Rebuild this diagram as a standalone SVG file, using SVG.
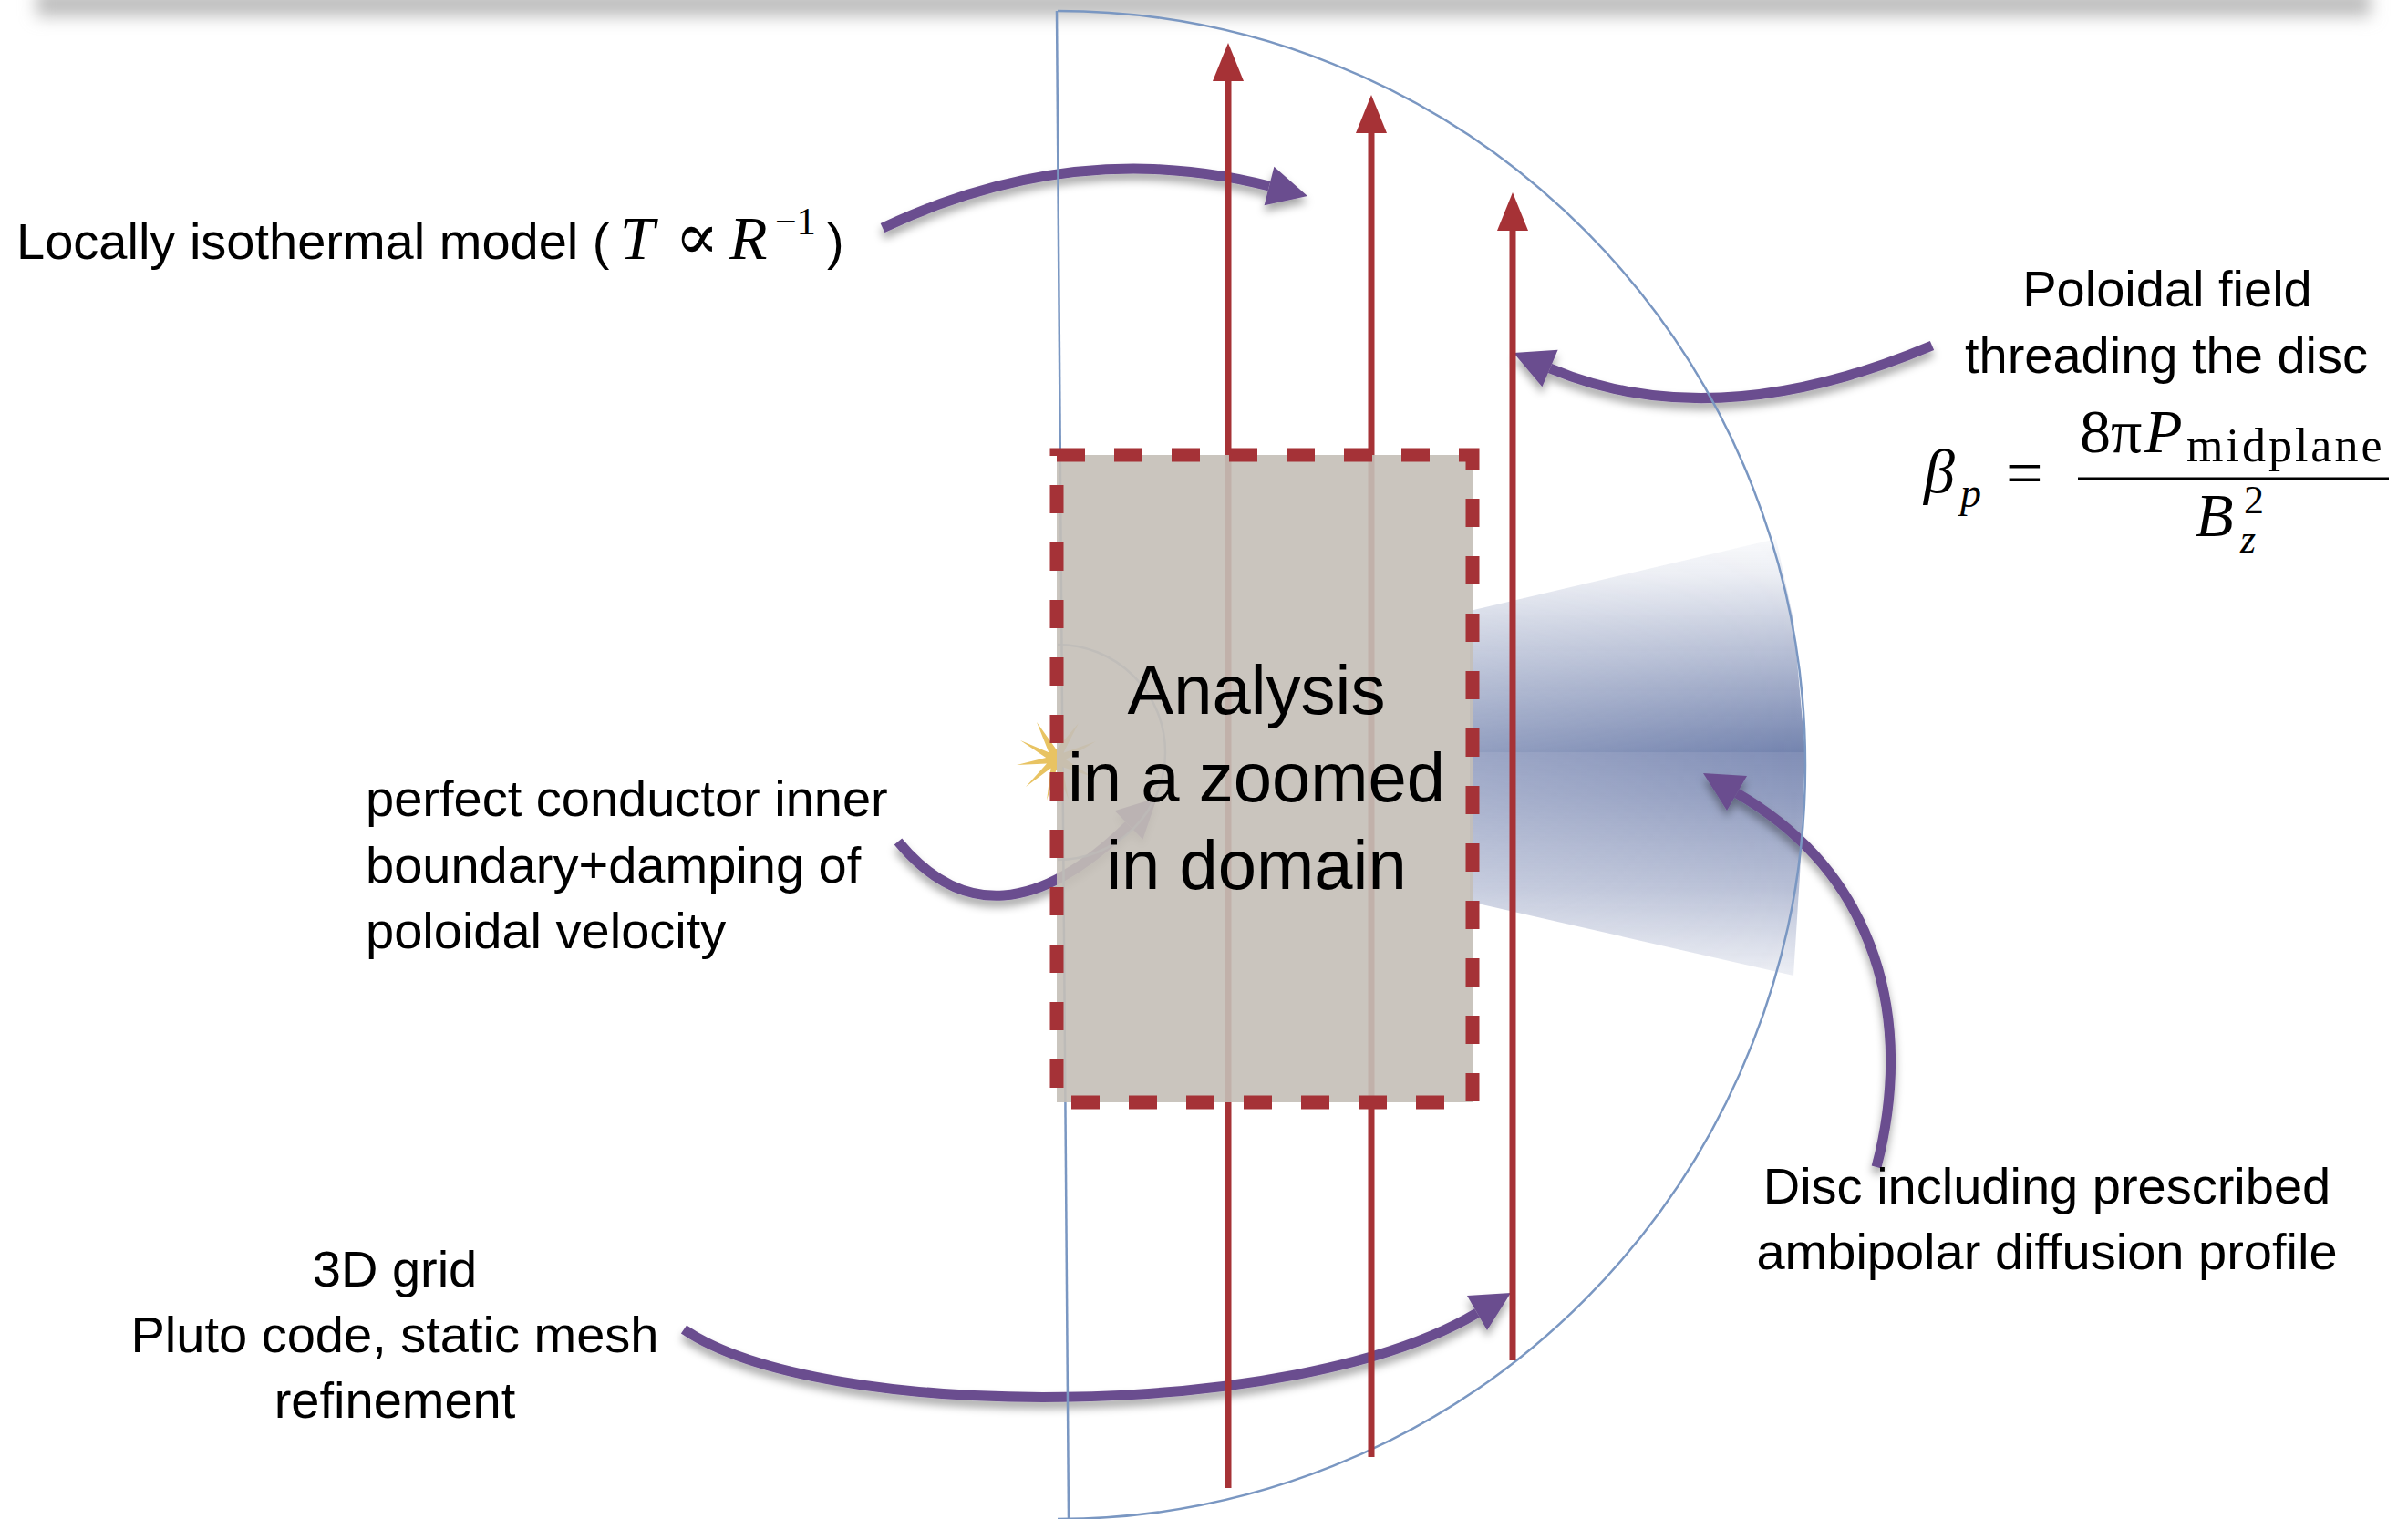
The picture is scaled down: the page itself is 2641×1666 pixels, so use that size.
<svg xmlns="http://www.w3.org/2000/svg" width="2641" height="1666" viewBox="0 0 2641 1666">
  <style>
    .lbl { font-family: "Liberation Sans", Arial, sans-serif; font-size: 56px; fill: #000; }
    .big { font-size: 76px; }
    .mid { text-anchor: middle; }
    .math { font-family: "Liberation Serif", "DejaVu Serif", "Times New Roman", serif; fill: #000; }
    .it { font-style: italic; }
    .up { font-style: normal; }
    .domain { stroke: #7a97c2; stroke-width: 2.5; fill: none; }
    .field { stroke: #a63236; stroke-width: 7; fill: none; }
    .fhead { fill: #a63236; }
    .pointer { stroke: #6b4e8f; stroke-width: 11; fill: none; stroke-linecap: butt; }
    .phead { fill: #6b4e8f; }
  </style>
  <defs>
    <filter id="haze" x="-10%" y="-300%" width="120%" height="700%">
      <feGaussianBlur stdDeviation="9"/>
    </filter>
    <filter id="shadow" x="-20%" y="-30%" width="140%" height="170%">
      <feDropShadow dx="0" dy="7" stdDeviation="5" flood-color="#000" flood-opacity="0.35"/>
    </filter>
    <linearGradient id="discTop" gradientUnits="userSpaceOnUse" x1="0" y1="591" x2="0" y2="825">
      <stop offset="0" stop-color="#6072a3" stop-opacity="0.04"/>
      <stop offset="0.17" stop-color="#6072a3" stop-opacity="0.13"/>
      <stop offset="0.46" stop-color="#6072a3" stop-opacity="0.4"/>
      <stop offset="0.75" stop-color="#6072a3" stop-opacity="0.66"/>
      <stop offset="1" stop-color="#6072a3" stop-opacity="0.88"/>
    </linearGradient>
    <linearGradient id="discBot" gradientUnits="userSpaceOnUse" x1="0" y1="825" x2="0" y2="1071">
      <stop offset="0" stop-color="#6878a8" stop-opacity="0.84"/>
      <stop offset="0.2" stop-color="#6878a8" stop-opacity="0.74"/>
      <stop offset="0.6" stop-color="#6878a8" stop-opacity="0.48"/>
      <stop offset="0.85" stop-color="#6878a8" stop-opacity="0.25"/>
      <stop offset="1" stop-color="#6878a8" stop-opacity="0.12"/>
    </linearGradient>
    <linearGradient id="discFade" gradientUnits="userSpaceOnUse" x1="1612" y1="0" x2="1980" y2="0">
      <stop offset="0" stop-color="#fff" stop-opacity="0.78"/>
      <stop offset="1" stop-color="#fff" stop-opacity="1"/>
    </linearGradient>
    <mask id="discMask" maskUnits="userSpaceOnUse" x="1550" y="550" width="500" height="560">
      <rect x="1550" y="550" width="500" height="560" fill="url(#discFade)"/>
    </mask>
  </defs>

  <rect width="2641" height="1666" fill="#fff"/>

  <!-- soft shadow strip along the top edge -->
  <rect x="40" y="-10" width="2560" height="28" fill="#bdbdbd" filter="url(#haze)"/>

  <!-- disc wedge with ambipolar diffusion profile -->
  <g id="disc" mask="url(#discMask)">
    <polygon points="1612,670 1948,591 1967,680 1980,825 1612,825" fill="url(#discTop)"/>
    <polygon points="1612,825 1980,825 1974,960 1967,1070 1612,989" fill="url(#discBot)"/>
  </g>

  <!-- connectors: curved pointers from the labels -->
  <g id="connectors">
    <g id="ptr-isothermal" filter="url(#shadow)">
      <path class="pointer" d="M 968 250 Q 1180 150 1392 204"/>
      <polygon class="phead" points="1434,215 1386.6,225.3 1397.4,182.7"/>
    </g>
    <g id="ptr-field" filter="url(#shadow)">
      <path class="pointer" d="M 2119 379 Q 1880 480 1700 404"/>
      <polygon class="phead" points="1660,387 1708.6,383.7 1691.4,424.3"/>
    </g>
    <g id="ptr-boundary" filter="url(#shadow)">
      <path class="pointer" d="M 985 923 Q 1090 1050 1238 905"/>
      <polygon class="phead" points="1269,875 1253.4,920.7 1222.6,889.3"/>
    </g>
    <g id="ptr-grid" filter="url(#shadow)">
      <path class="pointer" d="M 750 1458 C 900 1560 1420 1560 1620 1440"/>
      <polygon class="phead" points="1657,1418 1631,1459 1609,1421"/>
    </g>
    <g id="ptr-disc" filter="url(#shadow)">
      <path class="pointer" d="M 2058 1280 C 2100 1120 2060 960 1905 870"/>
      <polygon class="phead" points="1868,848 1916,851 1894,889"/>
    </g>
  </g>

  <!-- computational domain: axis, outer boundary and inner boundary -->
  <g id="domain">
    <path class="domain" d="M 1159 12 L 1172 1666"/>
    <path class="domain" d="M 1160 12 A 820 827 0 0 1 1160 1666"/>
    <path class="domain" d="M 1160 707 A 118 118 0 0 1 1160 943" opacity="0.8"/>
  </g>

  <!-- central star -->
  <g id="star">
    <polygon fill="#e8c362" points="1115,839 1147.2,831.1 1119,812 1150.3,825.2 1137,792 1158.5,822 1183,793 1166.3,825.8 1202,813 1169,833.1 1198,852 1165.3,841.2 1172,877 1158.6,844 1148,878 1152.5,842.5 1125,863 1148,837.6"/>
  </g>

  <!-- poloidal field lines -->
  <g id="field-lines">
    <g id="field-1">
      <line class="field" x1="1347" y1="1632" x2="1347" y2="85"/>
      <polygon class="fhead" points="1347,47 1364,89 1330,89"/>
    </g>
    <g id="field-2">
      <line class="field" x1="1504" y1="1598" x2="1504" y2="142"/>
      <polygon class="fhead" points="1504,104 1521,146 1487,146"/>
    </g>
    <g id="field-3">
      <line class="field" x1="1659" y1="1492" x2="1659" y2="249"/>
      <polygon class="fhead" points="1659,211 1676,253 1642,253"/>
    </g>
  </g>

  <!-- zoomed-in analysis region -->
  <g id="analysis-box">
    <rect x="1159" y="499" width="456" height="710" fill="#c4bfb7" fill-opacity="0.9"/>
    <rect x="1159" y="499" width="456" height="710" fill="none" stroke="#a53237" stroke-width="15" stroke-dasharray="31 32"/>
    <text class="lbl big mid" x="1378" y="783">Analysis</text>
    <text class="lbl big mid" x="1378" y="879">in a zoomed</text>
    <text class="lbl big mid" x="1378" y="975">in domain</text>
  </g>

  <!-- label: thermal model -->
  <g id="label-isothermal">
    <text class="lbl" x="18" y="284">Locally isothermal model (</text>
    <text class="math" y="284"><tspan class="it" x="680" font-size="68">T</tspan><tspan class="up" x="740" font-family="DejaVu Serif, serif" font-size="72">∝</tspan><tspan class="it" x="800" font-size="68">R</tspan><tspan class="up" x="850" y="257" font-size="42">−1</tspan></text>
    <text class="lbl" x="907" y="284">)</text>
  </g>

  <!-- label: poloidal field and plasma beta -->
  <g id="label-field">
    <text class="lbl mid" x="2377" y="336">Poloidal field</text>
    <text class="lbl mid" x="2376" y="409">threading the disc</text>
    <text class="math"><tspan class="it" x="2110" y="540" font-size="68">β</tspan><tspan class="it" x="2150" y="556" font-size="46">p</tspan><tspan x="2200" y="543" font-size="72">=</tspan><tspan x="2281" y="496" font-size="68">8π</tspan><tspan class="it" x="2352" y="496" font-size="68">P</tspan><tspan x="2398" y="506" font-size="52" letter-spacing="3">midplane</tspan><tspan class="it" x="2408" y="588" font-size="68">B</tspan><tspan x="2461" y="563" font-size="44">2</tspan><tspan class="it" x="2457" y="606" font-size="44">z</tspan></text>
    <line x1="2279" y1="525" x2="2620" y2="525" stroke="#000" stroke-width="3"/>
  </g>

  <!-- label: inner boundary -->
  <g id="label-boundary">
    <text class="lbl" x="401" y="895">perfect conductor inner</text>
    <text class="lbl" x="401" y="968">boundary+damping of</text>
    <text class="lbl" x="401" y="1040">poloidal velocity</text>
  </g>

  <!-- label: numerical grid -->
  <g id="label-grid">
    <text class="lbl mid" x="433" y="1411">3D grid</text>
    <text class="lbl mid" x="433" y="1483">Pluto code, static mesh</text>
    <text class="lbl mid" x="433" y="1555">refinement</text>
  </g>

  <!-- label: disc -->
  <g id="label-disc">
    <text class="lbl mid" x="2245" y="1320">Disc including prescribed</text>
    <text class="lbl mid" x="2245" y="1392">ambipolar diffusion profile</text>
  </g>
</svg>
